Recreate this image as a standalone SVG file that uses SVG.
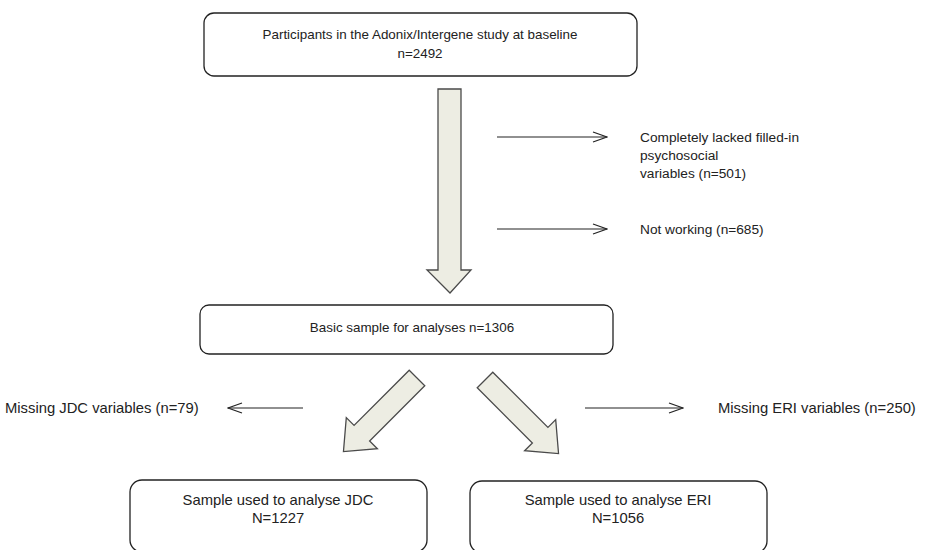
<svg xmlns="http://www.w3.org/2000/svg" width="926" height="550" viewBox="0 0 926 550">
<style>
.box{fill:#fff;stroke:#222;stroke-width:1.3}
.blk{fill:#edede3;stroke:#4a4a4a;stroke-width:1.3;stroke-linejoin:miter}
.ln{stroke:#222;stroke-width:1.2;fill:none}
text{font-family:"Liberation Sans",Arial,sans-serif;font-size:13.4px;fill:#222}
.c{text-anchor:middle}
.big{font-size:14.8px}
</style>
<defs>
<marker id="open" viewBox="0 0 16 12" refX="15" refY="6" markerWidth="16" markerHeight="12" markerUnits="userSpaceOnUse" orient="auto">
<path d="M1,1 L15,6 L1,11" fill="none" stroke="#222" stroke-width="1.2"/>
</marker>
</defs>
<g id="n-participants">
<rect class="box" x="204" y="13" width="433" height="63" rx="10"/>
<text class="c" x="420" y="39">Participants in the Adonix/Intergene  study at baseline</text>
<text class="c" x="420" y="58">n=2492</text>
</g>
<g id="n-lacked">
<text x="640" y="142" style="font-size:13.7px">Completely lacked filled-in</text>
<text x="640" y="160" style="font-size:13.7px">psychosocial</text>
<text x="640" y="178" style="font-size:13.7px">variables (n=501)</text>
</g>
<g id="n-notworking">
<text x="640" y="234" style="font-size:13.7px">Not working (n=685)</text>
</g>
<g id="n-basic">
<rect class="box" x="200" y="305" width="413" height="49" rx="9"/>
<text class="c" x="412" y="332">Basic sample for analyses n=1306</text>
</g>
<g id="n-missjdc">
<text x="5" y="413" class="big">Missing JDC variables (n=79)</text>
</g>
<g id="n-misseri">
<text x="718" y="413" class="big">Missing ERI variables (n=250)</text>
</g>
<g id="n-jdc">
<rect class="box" x="130" y="480" width="297" height="72" rx="12"/>
<text class="c big" x="278" y="505">Sample used to analyse JDC</text>
<text class="c big" x="278" y="523">N=1227</text>
</g>
<g id="n-eri">
<rect class="box" x="470" y="481" width="297" height="72" rx="12"/>
<text class="c big" x="618" y="505">Sample used to analyse ERI</text>
<text class="c big" x="618" y="523">N=1056</text>
</g>
<g id="connectors">
<path class="blk" d="M438,89 L461,89 L461,270 L471,270 L450,293 L427,270 L438,270 Z"/>
<line class="ln" x1="497" y1="137" x2="607" y2="137" marker-end="url(#open)"/>
<line class="ln" x1="497" y1="229" x2="607" y2="229" marker-end="url(#open)"/>
<path class="blk" transform="translate(417,378) rotate(45)" d="M-11,0 L11,0 L11,78 L22,78 L0,104 L-22,78 L-11,78 Z"/>
<path class="blk" transform="translate(485,380) rotate(-45)" d="M-11,0 L11,0 L11,78 L22,78 L0,104 L-22,78 L-11,78 Z"/>
<line class="ln" x1="303" y1="408" x2="228" y2="408" marker-end="url(#open)"/>
<line class="ln" x1="585" y1="408" x2="683" y2="408" marker-end="url(#open)"/>
</g>
</svg>
